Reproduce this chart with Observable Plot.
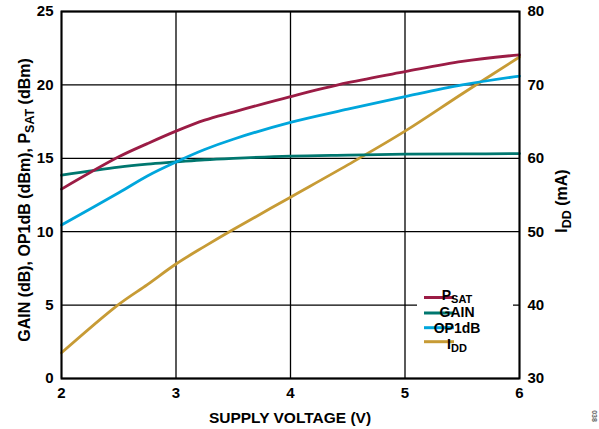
<!DOCTYPE html>
<html><head><meta charset="utf-8">
<script src="https://cdn.jsdelivr.net/npm/d3@7"></script>
<script src="https://cdn.jsdelivr.net/npm/@observablehq/plot@0.6"></script>
<style>
html,body{margin:0;padding:0;background:#fff;}
#chart{position:relative;width:599px;height:429px;}
</style></head>
<body><div id="chart"></div>
<script>
const volts = [2, 2.5, 2.75, 3, 3.25, 3.5, 4, 4.5, 5, 5.5, 6];
const psat  = [12.9, 15.1, 16.0, 16.85, 17.6, 18.15, 19.2, 20.15, 20.9, 21.6, 22.05];
const gain  = [13.85, 14.4, 14.6, 14.75, 14.9, 15.0, 15.15, 15.22, 15.28, 15.3, 15.32];
const op1db = [10.45, 12.65, 13.8, 14.75, 15.6, 16.3, 17.45, 18.35, 19.2, 20.0, 20.6];
const idd   = [33.5, 40.1, 42.8, 45.6, 48.0, 50.3, 54.7, 59.1, 63.7, 68.8, 73.8];
const xTicks = [2, 3, 4, 5, 6];
const yTicks = [0, 5, 10, 15, 20, 25];
const yRightTicks = [30, 40, 50, 60, 70, 80];
const colors = {PSAT: "#9b1c45", GAIN: "#00776f", OP1dB: "#00a6dc", IDD: "#c79b35"};

const toLeft = v => (v - 30) / 2;   // right axis (mA) -> left axis units
const rows = [];
volts.forEach((v, i) => {
  rows.push({s: "IDD", x: v, y: toLeft(idd[i])});
  rows.push({s: "GAIN", x: v, y: gain[i]});
  rows.push({s: "OP1dB", x: v, y: op1db[i]});
  rows.push({s: "PSAT", x: v, y: psat[i]});
});
const order = ["IDD", "GAIN", "OP1dB", "PSAT"];

const chart = Plot.plot({
  width: 599, height: 429,
  marginLeft: 61, marginRight: 80, marginTop: 11, marginBottom: 51,
  style: {fontFamily: "'Liberation Sans', Arial, sans-serif", fontSize: "15px", fontWeight: "bold", color: "#000", background: "#fff"},
  x: {domain: [2, 6]},
  y: {domain: [0, 25]},
  marks: [
    Plot.ruleX(xTicks, {stroke: "#000", strokeWidth: 1.3}),
    Plot.ruleY(yTicks, {stroke: "#000", strokeWidth: 1.3}),
    ...order.map(s => Plot.line(rows.filter(r => r.s === s), {x: "x", y: "y", stroke: colors[s], strokeWidth: 2.8, curve: "catmull-rom"})),
    Plot.frame({stroke: "#000", strokeWidth: 2}),
    Plot.axisX(xTicks, {tickSize: 0, tickPadding: 9, label: null, tickFormat: d3.format("d")}),
    Plot.axisY(yTicks, {anchor: "left", tickSize: 0, tickPadding: 8, label: null, tickFormat: d3.format("d")}),
    Plot.axisY(yRightTicks.map(toLeft), {anchor: "right", tickSize: 0, tickPadding: 8, label: null, tickFormat: (d, i) => yRightTicks[i]})
  ]
});
document.getElementById("chart").appendChild(chart);

const svg = d3.select(chart);
const font = "'Liberation Sans', Arial, sans-serif";
function sub(t, main, subtxt, after, fs, shift) {
  t.append("tspan").text(main);
  t.append("tspan").attr("font-size", fs).attr("dy", shift).text(subtxt);
  if (after) t.append("tspan").attr("dy", -shift).text(after);
}
// axis titles
svg.append("text").attr("transform", "translate(290,418)").attr("text-anchor", "middle")
  .attr("font-family", font).attr("font-size", 15.5).attr("font-weight", "bold").attr("dy", "0.35em")
  .text("SUPPLY VOLTAGE (V)");
const lt = svg.append("text").attr("transform", "translate(24,200) rotate(-90)").attr("text-anchor", "middle")
  .attr("font-family", font).attr("font-size", 16).attr("font-weight", "bold").attr("dy", "0.35em");
sub(lt, "GAIN (dB), OP1dB (dBm), P", "SAT", " (dBm)", 12.5, 4);
const rt = svg.append("text").attr("transform", "translate(561,201) rotate(-90)").attr("text-anchor", "middle")
  .attr("font-family", font).attr("font-size", 16).attr("font-weight", "bold").attr("dy", "0.35em");
sub(rt, "I", "DD", " (mA)", 12.5, 4);

// legend
const lg = svg.append("g").attr("font-family", font).attr("font-weight", "bold").attr("font-size", 14);
lg.append("rect").attr("x", 417).attr("y", 287).attr("width", 96).attr("height", 66).attr("fill", "#fff");
const legend = [["PSAT", "P", "SAT"], ["GAIN", "GAIN", ""], ["OP1dB", "OP1dB", ""], ["IDD", "I", "DD"]];
const ly = [297.5, 313, 327.7, 341.7];
const ty = [295.5, 312.5, 328, 344];
legend.forEach(([k, m, s], i) => {
  lg.append("line").attr("x1", 424).attr("x2", 454).attr("y1", ly[i]).attr("y2", ly[i])
    .attr("stroke", colors[k]).attr("stroke-width", 3);
  const t = lg.append("text").attr("x", 457).attr("y", ty[i]).attr("dy", "0.35em");
  if (s) sub(t, m, s, "", 11, 3); else t.text(m);
});
// figure id
svg.append("text").attr("transform", "translate(592,416) rotate(90)").attr("text-anchor", "middle")
  .attr("font-family", font).attr("font-size", 7).attr("fill", "#666").text("038");
</script></body></html>
